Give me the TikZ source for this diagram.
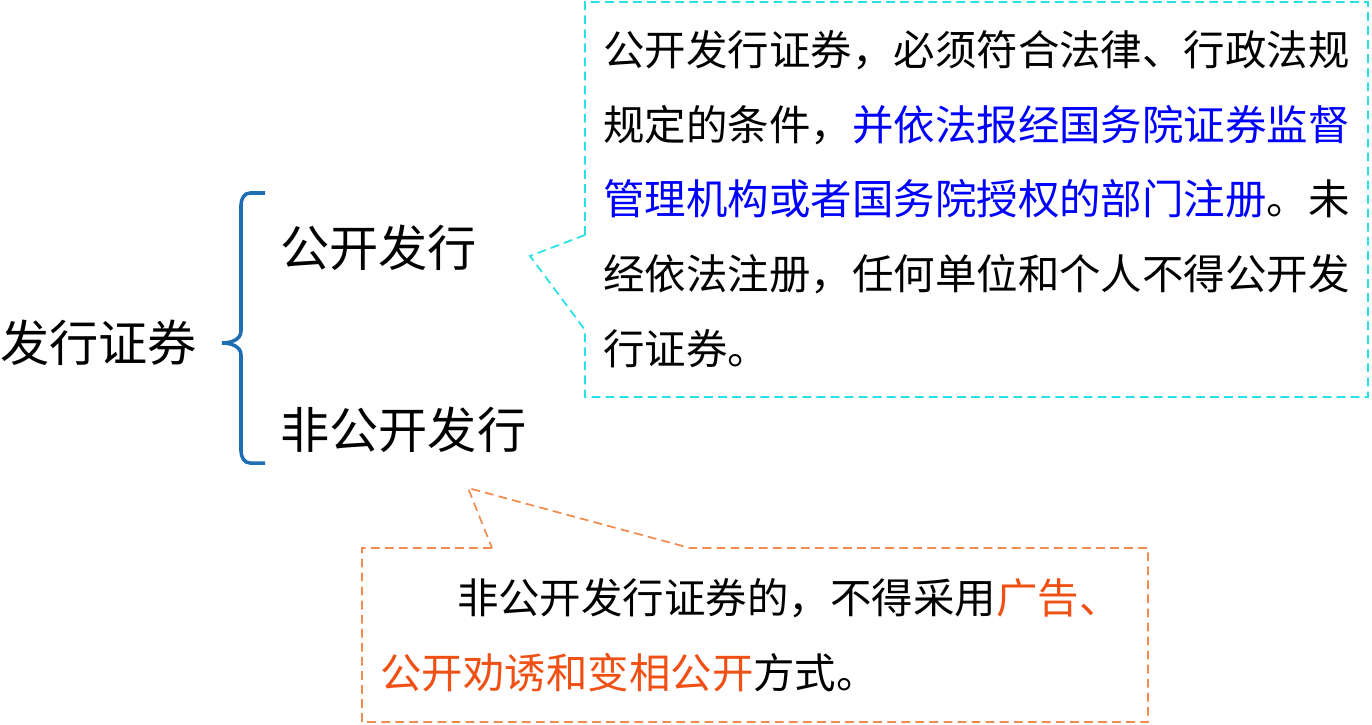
\documentclass[tikz,border=0pt]{standalone}
\usepackage{fontspec}
\newfontfamily\cjk{Noto Sans CJK SC}
\definecolor{cy}{RGB}{40,225,230}
\definecolor{orl}{RGB}{240,140,80}
\definecolor{ort}{RGB}{240,80,20}
\definecolor{brc}{RGB}{30,110,180}
\begin{document}
\begin{tikzpicture}[x=0.02cm,y=-0.02cm,
  big/.style={font=\cjk\fontsize{28}{34}\selectfont,anchor=west,inner sep=0},
  small/.style={font=\cjk\fontsize{23.6}{42.5}\selectfont,anchor=north west,inner sep=0,align=left},
  dsh/.style={dashed,dash pattern=on 5pt off 3pt,line width=1pt}]
\useasboundingbox (0,0) rectangle (1372,724);
\node[big] (root) at (0,343) {发行证券};
\node[big] (pub) at (280,248) {公开发行};
\node[big] (npub) at (280,430) {非公开发行};
\draw[brc,line width=2pt] (265,193) -- (250,193) to[out=180,in=90] (241,205) -- (241,331) to[out=-90,in=0] (222,343) to[out=0,in=90] (241,355) -- (241,451) to[out=-90,in=180] (250,463) -- (265,463);
\draw[cy,dsh] (585,235) -- (585,2) -- (1368,2) -- (1368,397) -- (585,397) -- (585,330) -- (530,256) -- cycle;
\node[small] (t1) at (603,30) {公开发行证券，必须符合法律、行政法规\\规定的条件，{\color{blue}并依法报经国务院证券监督}\\{\color{blue}管理机构或者国务院授权的部门注册}。未\\经依法注册，任何单位和个人不得公开发\\行证券。};
\node[small] (t2) at (380,578) {\hspace{1.85em}非公开发行证券的，不得采用{\color{ort}广告、}\\{\color{ort}公开劝诱和变相公开}方式。};
\draw[orl,dsh] (492,548) -- (362,548) -- (362,722) -- (1148,722) -- (1148,548) -- (690,548) -- (468,488) -- cycle;
\end{tikzpicture}
\end{document}
